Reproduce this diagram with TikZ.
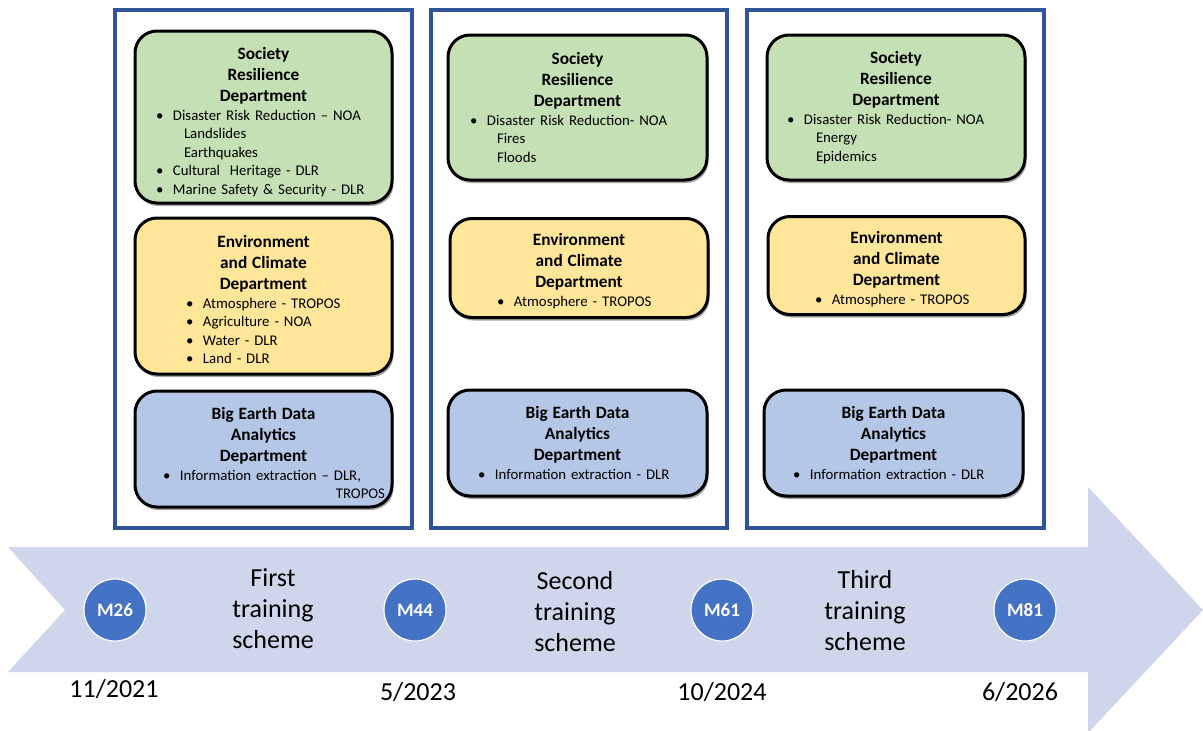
\documentclass[tikz,border=0pt]{standalone}
\usepackage{fontspec}
\setmainfont{Carlito}
\usepackage{tikz}
\usetikzlibrary{shadows, positioning}
\usepackage{xcolor}
\definecolor{panelblue}{RGB}{47, 85, 151}
\definecolor{srgreen}{RGB}{197, 224, 180}
\definecolor{ecyellow}{RGB}{255, 230, 153}
\definecolor{bdblue}{RGB}{180, 199, 231}
\definecolor{arrowlav}{RGB}{207, 213, 234}
\definecolor{milestone}{RGB}{68, 114, 196}
\newcommand{\dhead}[2][0pt]{{\centering\fontsize{17.3}{21}\selectfont\bfseries\rule{0pt}{\dimexpr12.5pt+#1\relax}#2\par}}
\newcommand{\bitem}[2]{\hspace*{#1}\makebox[17pt][l]{\textbullet}#2\par}
\newcommand{\subline}[2]{\hspace*{#1}#2\par}

\begin{document}
\begin{tikzpicture}[x=1pt, y=-1pt,
  dept/.style={draw=black, line width=3pt, rounded corners=22pt, inner xsep=0pt, inner ysep=0pt,
    font=\parindent0pt\fontsize{14.8}{18.5}\selectfont, align=left,
    drop shadow={shadow xshift=1.5pt, shadow yshift=-3pt, opacity=0.35, fill=black}},
  panel/.style={draw=panelblue, line width=3.2pt},
  mstone/.style={circle, fill=milestone, draw=white, line width=1.2pt, minimum size=62pt, inner sep=0pt,
    text=white, font=\fontsize{19}{19}\selectfont\bfseries},
  scheme/.style={align=center, font=\fontsize{26}{31}\selectfont},
  datelbl/.style={font=\fontsize{26}{30}\selectfont}]

  \fill[white] (0,0) rectangle (1203,731);
  \useasboundingbox (0,0) rectangle (1203,731);

  % timeline arrow
  \fill[arrowlav] (8,547) -- (1088,547) -- (1088,487) -- (1203,610) -- (1088,733)
    -- (1088,672) -- (8,672) -- (65,610) -- cycle;

  % panels
  \draw[panel] (115,10) rectangle (412,528);
  \draw[panel] (431,10) rectangle (727,528);
  \draw[panel] (747,10) rectangle (1044,528);

  % first training scheme
  \node[dept, fill=srgreen, text width=257pt, minimum height=172pt] (sr1) at (263.5,117) {%
    \dhead[10pt]{Society\\Resilience\\Department}%
    \bitem{21pt}{Disaster Risk Reduction – NOA}%
    \subline{49pt}{Landslides}%
    \subline{49pt}{Earthquakes}%
    \bitem{21pt}{Cultural\ \ Heritage - DLR}%
    \bitem{21pt}{Marine Safety \& Security - DLR}};
  \node[dept, fill=ecyellow, text width=257pt, minimum height=156pt] (ec1) at (263.5,296) {%
    \dhead[7pt]{Environment\\and Climate\\Department}%
    \bitem{51pt}{Atmosphere - TROPOS}%
    \bitem{51pt}{Agriculture - NOA}%
    \bitem{51pt}{Water - DLR}%
    \bitem{51pt}{Land - DLR}};
  \node[dept, fill=bdblue, text width=257pt, minimum height=116pt] (bd1) at (263.5,449) {%
    \dhead[8pt]{Big Earth Data\\Analytics\\Department}%
    \bitem{28pt}{Information extraction – DLR,}%
    \mbox{}\hfill TROPOS\hspace*{7pt}\par};

  % second training scheme
  \node[dept, fill=srgreen, text width=259pt, minimum height=145pt] (sr2) at (577.5,107.5) {%
    \dhead{Society\\Resilience\\Department}%
    \bitem{22pt}{Disaster Risk Reduction- NOA}%
    \subline{49pt}{Fires}%
    \subline{49pt}{Floods}};
  \node[dept, fill=ecyellow, text width=258pt, minimum height=99pt] (ec2) at (579,268) {%
    \dhead[6pt]{Environment\\and Climate\\Department}%
    \bitem{47pt}{Atmosphere - TROPOS}};
  \node[dept, fill=bdblue, text width=259pt, minimum height=106pt] (bd2) at (577.5,443) {%
    \dhead{Big Earth Data\\Analytics\\Department}%
    \bitem{30pt}{Information extraction - DLR}};

  % third training scheme
  \node[dept, fill=srgreen, text width=258pt, minimum height=145pt] (sr3) at (896,107.5) {%
    \dhead{Society\\Resilience\\Department}%
    \bitem{20pt}{Disaster Risk Reduction- NOA}%
    \subline{49pt}{Energy}%
    \subline{49pt}{Epidemics}};
  \node[dept, fill=ecyellow, text width=257pt, minimum height=98pt] (ec3) at (896.5,265.5) {%
    \dhead[7pt]{Environment\\and Climate\\Department}%
    \bitem{47pt}{Atmosphere - TROPOS}};
  \node[dept, fill=bdblue, text width=259pt, minimum height=106pt] (bd3) at (893.5,443) {%
    \dhead{Big Earth Data\\Analytics\\Department}%
    \bitem{29pt}{Information extraction - DLR}};

  % milestones
  \node[mstone] (m26) at (115,610) {M26};
  \node[mstone] (m44) at (415,610) {M44};
  \node[mstone] (m61) at (722,610) {M61};
  \node[mstone] (m81) at (1025,610) {M81};

  % scheme labels
  \node[scheme] (first) at (273,609) {First\\training\\scheme};
  \node[scheme] (second) at (575,612) {Second\\training\\scheme};
  \node[scheme] (third) at (865,611) {Third\\training\\scheme};

  % dates
  \node[datelbl] (d26) at (114,689) {11/2021};
  \node[datelbl] (d44) at (418,692) {5/2023};
  \node[datelbl] (d61) at (722,692) {10/2024};
  \node[datelbl] (d81) at (1020,692) {6/2026};

\end{tikzpicture}
\end{document}
